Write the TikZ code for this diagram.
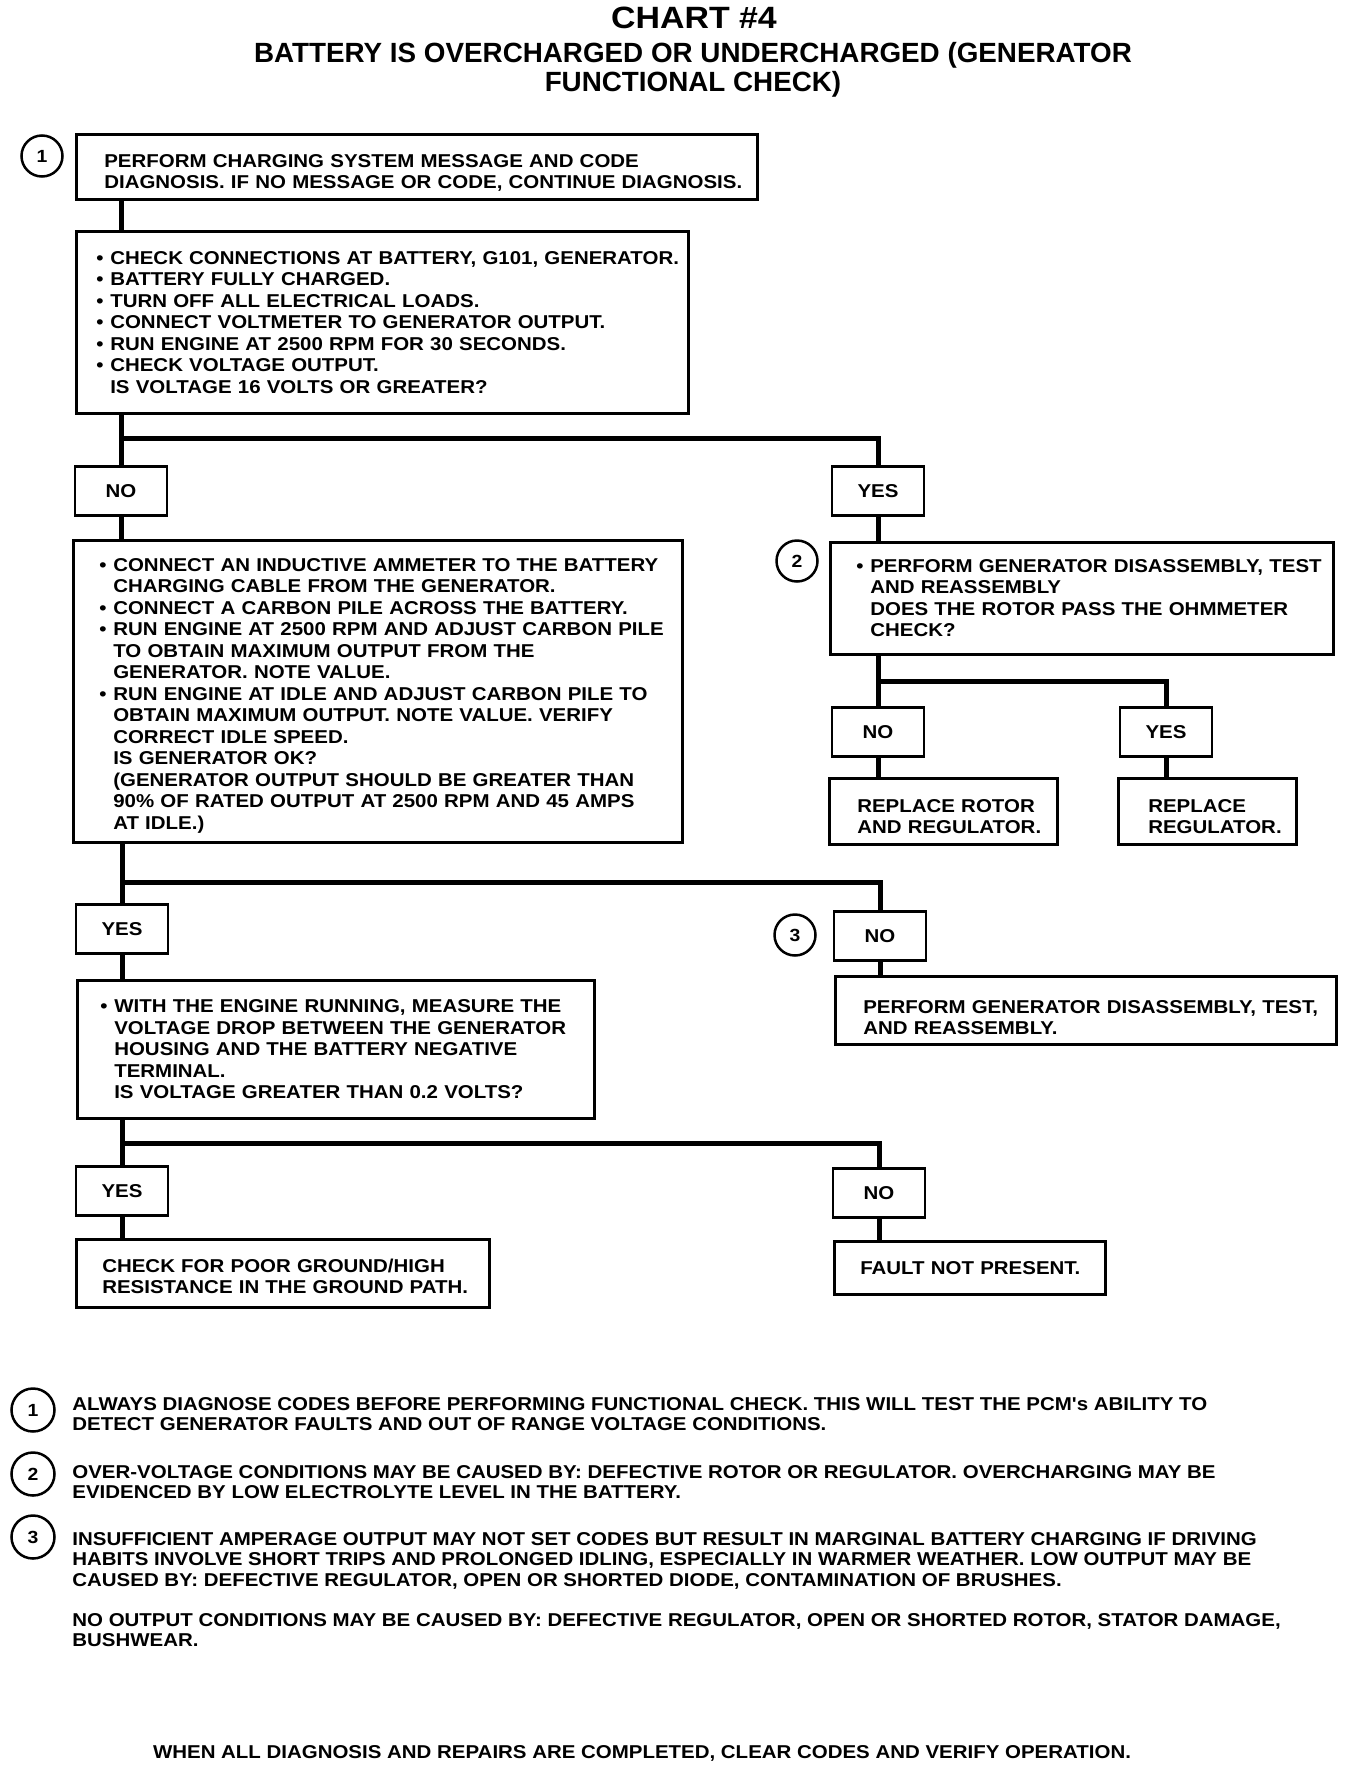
\documentclass[tikz,border=0pt]{standalone}
\usepackage{fontspec}
\setmainfont{Liberation Sans}
\newfontfamily\chartfont{Liberation Sans}[FakeStretch=1.1]
\newcommand{\bul}{\leavevmode\llap{\textbullet\hspace{3.4pt}}}

\begin{document}
\begin{tikzpicture}[x=0.5pt,y=-0.5pt,
    box/.style={draw, line width=1.3pt, anchor=north west, inner sep=0pt, align=left,
        font=\chartfont\bfseries\fontsize{9.3}{10.75}\selectfont},
    lpad/.style={execute at begin node={\leftskip=#1\rightskip=-40pt plus 1fil\relax}},
    low/.style={execute at begin node={\rule{0pt}{#1}}},
    tag/.style={draw, line width=1.3pt, anchor=north, minimum width=46pt, minimum height=24.5pt,
        inner sep=0pt, font=\chartfont\bfseries\fontsize{9.3}{10.75}\selectfont},
    num/.style={circle, draw, line width=1.25pt, minimum size=20.5pt, inner sep=0pt,
        font=\chartfont\bfseries\fontsize{8.8}{8.8}\selectfont},
    note/.style={anchor=north west, inner sep=0pt, align=left,
        font=\chartfont\bfseries\fontsize{9.3}{10.2}\selectfont},
    wire/.style={line width=2.5pt}]
    \useasboundingbox (0,0) rectangle (1344,1772);

    \node[anchor=north, inner sep=0pt, font=\chartfont\bfseries\fontsize{15.4}{15.4}\selectfont] (ttl) at (694,7) {CHART \#4};
    \node[anchor=north, inner sep=0pt, align=center, font=\bfseries\fontsize{13.9}{14.5}\selectfont] (sub) at (693,42)
        {BATTERY IS OVERCHARGED OR UNDERCHARGED (GENERATOR\\FUNCTIONAL CHECK)};

    \node[num] (c1) at (42,156) {1};
    \node[box, lpad=14pt, low=12.7pt, text width=340.5pt, minimum height=32.5pt] (diag) at (75,133)
        {PERFORM CHARGING SYSTEM MESSAGE AND CODE\\DIAGNOSIS. IF NO MESSAGE OR CODE, CONTINUE DIAGNOSIS.};

    \node[box, lpad=17pt, text width=306pt, minimum height=91pt] (chk) at (75,230)
        {\bul CHECK CONNECTIONS AT BATTERY, G101, GENERATOR.\\
         \bul BATTERY FULLY CHARGED.\\
         \bul TURN OFF ALL ELECTRICAL LOADS.\\
         \bul CONNECT VOLTMETER TO GENERATOR OUTPUT.\\
         \bul RUN ENGINE AT 2500 RPM FOR 30 SECONDS.\\
         \bul CHECK VOLTAGE OUTPUT.\\
         IS VOLTAGE 16 VOLTS OR GREATER?};

    \coordinate (b1) at (121,438);
    \node[tag] (no1) at (121,465) {NO};
    \node[tag] (yes1) at (878,465) {YES};

    \node[box, lpad=20pt, low=10.7pt, text width=304.5pt, minimum height=151pt] (amm) at (72,539)
        {\bul CONNECT AN INDUCTIVE AMMETER TO THE BATTERY\\
         CHARGING CABLE FROM THE GENERATOR.\\
         \bul CONNECT A CARBON PILE ACROSS THE BATTERY.\\
         \bul RUN ENGINE AT 2500 RPM AND ADJUST CARBON PILE\\
         TO OBTAIN MAXIMUM OUTPUT FROM THE\\
         GENERATOR. NOTE VALUE.\\
         \bul RUN ENGINE AT IDLE AND ADJUST CARBON PILE TO\\
         OBTAIN MAXIMUM OUTPUT. NOTE VALUE. VERIFY\\
         CORRECT IDLE SPEED.\\
         IS GENERATOR OK?\\
         (GENERATOR OUTPUT SHOULD BE GREATER THAN\\
         90\% OF RATED OUTPUT AT 2500 RPM AND 45 AMPS\\
         AT IDLE.)};

    \node[num] (c2) at (797,561) {2};
    \node[box, lpad=20pt, text width=251.5pt, minimum height=56pt] (rot) at (829,541)
        {\bul PERFORM GENERATOR DISASSEMBLY, TEST\\
         AND REASSEMBLY\\
         DOES THE ROTOR PASS THE OHMMETER\\
         CHECK?};

    \coordinate (b2) at (878,681);
    \node[tag] (no2) at (878,706) {NO};
    \node[tag] (yes2) at (1166,706) {YES};
    \node[box, lpad=14pt, low=11.7pt, text width=114pt, minimum height=33pt] (rrr) at (828,777)
        {REPLACE ROTOR\\AND REGULATOR.};
    \node[box, lpad=15pt, low=11.7pt, text width=89pt, minimum height=33pt] (rreg) at (1117,777)
        {REPLACE\\REGULATOR.};

    \coordinate (b3) at (122,882);
    \node[tag] (yes3) at (122,903) {YES};
    \node[num] (c3) at (795,935) {3};
    \node[tag] (no3) at (880,910) {NO};
    \node[box, lpad=14pt, low=13.7pt, text width=250.5pt, minimum height=34pt] (perf) at (834,975)
        {PERFORM GENERATOR DISASSEMBLY, TEST,\\AND REASSEMBLY.};

    \node[box, lpad=18.5pt, text width=258.5pt, minimum height=69pt] (drop) at (76,979)
        {\bul WITH THE ENGINE RUNNING, MEASURE THE\\
         VOLTAGE DROP BETWEEN THE GENERATOR\\
         HOUSING AND THE BATTERY NEGATIVE\\
         TERMINAL.\\
         IS VOLTAGE GREATER THAN 0.2 VOLTS?};

    \coordinate (b4) at (122,1143);
    \node[tag] (yes4) at (122,1165) {YES};
    \node[tag] (no4) at (879,1167) {NO};
    \node[box, lpad=13pt, low=9.7pt, text width=206.5pt, minimum height=34pt] (gnd) at (75,1238)
        {CHECK FOR POOR GROUND/HIGH\\RESISTANCE IN THE GROUND PATH.};
    \node[box, lpad=13pt, text width=135.5pt, minimum height=26.5pt] (fault) at (833,1240)
        {FAULT NOT PRESENT.};

    \draw[wire] (diag.south -| no1) -- (chk.north -| no1);
    \draw[wire] (chk.south -| no1) -- (no1.north);
    \draw[wire] (b1) -| (yes1.north);
    \draw[wire] (no1.south) -- (amm.north -| no1);
    \draw[wire] (yes1.south) -- (rot.north -| yes1);
    \draw[wire] (rot.south -| no2) -- (no2.north);
    \draw[wire] (b2) -| (yes2.north);
    \draw[wire] (no2.south) -- (rrr.north -| no2);
    \draw[wire] (yes2.south) -- (rreg.north -| yes2);
    \draw[wire] (amm.south -| yes3) -- (yes3.north);
    \draw[wire] (b3) -| (no3.north);
    \draw[wire] (yes3.south) -- (drop.north -| yes3);
    \draw[wire] (no3.south) -- (perf.north -| no3);
    \draw[wire] (drop.south -| yes4) -- (yes4.north);
    \draw[wire] (b4) -| (no4.north);
    \draw[wire] (yes4.south) -- (gnd.north -| yes4);
    \draw[wire] (no4.south) -- (fault.north -| no4);

    \node[num, minimum size=21.5pt] (m1) at (33,1410) {1};
    \node[note] (t1) at (72,1397)
        {ALWAYS DIAGNOSE CODES BEFORE PERFORMING FUNCTIONAL CHECK. THIS WILL TEST THE PCM's ABILITY TO\\
         DETECT GENERATOR FAULTS AND OUT OF RANGE VOLTAGE CONDITIONS.};
    \node[num, minimum size=21.5pt] (m2) at (33,1474) {2};
    \node[note] (t2) at (72,1465)
        {OVER-VOLTAGE CONDITIONS MAY BE CAUSED BY: DEFECTIVE ROTOR OR REGULATOR. OVERCHARGING MAY BE\\
         EVIDENCED BY LOW ELECTROLYTE LEVEL IN THE BATTERY.};
    \node[num, minimum size=21.5pt] (m3) at (33,1537) {3};
    \node[note] (t3) at (72,1532)
        {INSUFFICIENT AMPERAGE OUTPUT MAY NOT SET CODES BUT RESULT IN MARGINAL BATTERY CHARGING IF DRIVING\\
         HABITS INVOLVE SHORT TRIPS AND PROLONGED IDLING, ESPECIALLY IN WARMER WEATHER. LOW OUTPUT MAY BE\\
         CAUSED BY: DEFECTIVE REGULATOR, OPEN OR SHORTED DIODE, CONTAMINATION OF BRUSHES.};
    \node[note] (t4) at (72,1613)
        {NO OUTPUT CONDITIONS MAY BE CAUSED BY: DEFECTIVE REGULATOR, OPEN OR SHORTED ROTOR, STATOR DAMAGE,\\
         BUSHWEAR.};
    \node[note, anchor=north] (fin) at (642,1745)
        {WHEN ALL DIAGNOSIS AND REPAIRS ARE COMPLETED, CLEAR CODES AND VERIFY OPERATION.};
\end{tikzpicture}
\end{document}
